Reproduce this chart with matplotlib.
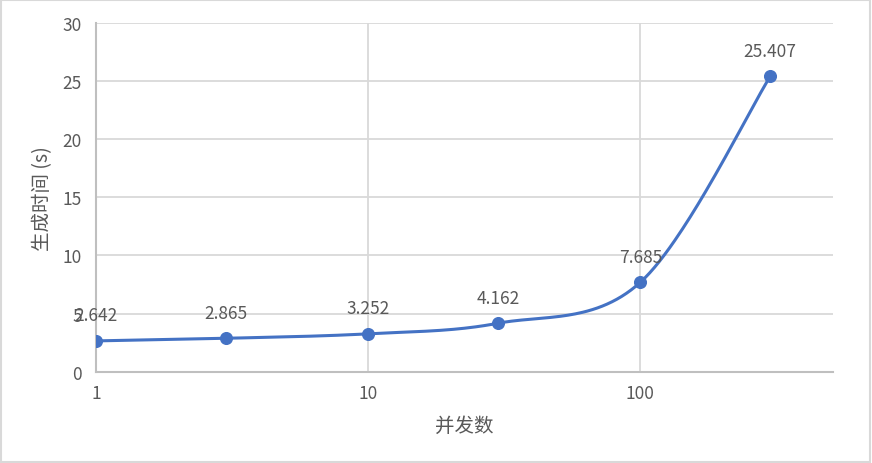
import numpy as np
import matplotlib
matplotlib.use("Agg")
import matplotlib.pyplot as plt
from matplotlib.patches import Rectangle

plt.rcParams['font.family'] = ['Noto Sans CJK SC', 'DejaVu Sans']

# ── Data ──────────────────────────────────────────────
concurrency = [1, 3, 10, 30, 100, 300]
gen_time = [2.642, 2.865, 3.252, 4.162, 7.685, 25.407]
x_ticks = [1, 10, 100]
y_ticks = [0, 5, 10, 15, 20, 25, 30]

LINE_C = "#4472C4"
TEXT_C = "#595959"
GRID_C = "#D9D9D9"
AXIS_C = "#BFBFBF"


def smooth_curve(xs, ys, n=60):
    """Excel-style smoothed line: Catmull-Rom bezier in (log x, y) space."""
    P = np.column_stack([np.log10(xs), ys])
    P = np.vstack([P[0], P, P[-1]])
    out = []
    t = np.linspace(0, 1, n)[:, None]
    for i in range(1, len(P) - 2):
        p0, p1 = P[i], P[i + 1]
        c1 = p0 + (P[i + 1] - P[i - 1]) / 6
        c2 = p1 - (P[i + 2] - P[i]) / 6
        seg = ((1 - t) ** 3) * p0 + 3 * ((1 - t) ** 2) * t * c1 \
            + 3 * (1 - t) * t ** 2 * c2 + t ** 3 * p1
        out.append(seg)
    pts = np.vstack(out)
    return 10 ** pts[:, 0], pts[:, 1]


fig = plt.figure(figsize=(8.72, 4.64), dpi=100)
ax = fig.add_axes([0.110, 0.197, 0.845, 0.751])

sx, sy = smooth_curve(concurrency, gen_time)
ax.plot(sx, sy, color=LINE_C, lw=2.2, solid_capstyle="round", zorder=3)
ax.plot(concurrency, gen_time, "o", color=LINE_C, ms=8.4, zorder=4)

for x, y in zip(concurrency, gen_time):
    ax.annotate(f"{y:.3f}", (x, y), xytext=(0, 18.5), textcoords="offset points",
                ha="center", va="center", fontsize=12.5, color=TEXT_C, zorder=5)

ax.set_xscale("log")
ax.set_xlim(1, 10 ** 2.707)
ax.set_ylim(0, 30)
ax.set_xticks(x_ticks)
ax.set_xticklabels([str(v) for v in x_ticks])
ax.xaxis.set_minor_locator(matplotlib.ticker.NullLocator())
ax.set_yticks(y_ticks)

ax.grid(True, which="major", color=GRID_C, lw=1.3, zorder=0)
ax.set_axisbelow(True)
for side in ("top", "right"):
    ax.spines[side].set_visible(False)
for side in ("left", "bottom"):
    ax.spines[side].set_color(AXIS_C)
    ax.spines[side].set_linewidth(1.5)

ax.tick_params(axis="both", length=0, labelsize=12.5, labelcolor=TEXT_C)
ax.tick_params(axis="y", pad=10)
ax.tick_params(axis="x", pad=9)

ax.set_xlabel("并发数", fontsize=14, color=TEXT_C, labelpad=9)
ax.set_ylabel("生成时间 (s)", fontsize=14, color=TEXT_C, labelpad=7)

# light frame round the chart
fig.patches.append(Rectangle((0.001, 0.002), 0.997, 0.995, transform=fig.transFigure,
                             fill=False, edgecolor=GRID_C, lw=1.5))

fig.savefig("out.png", dpi=100)
